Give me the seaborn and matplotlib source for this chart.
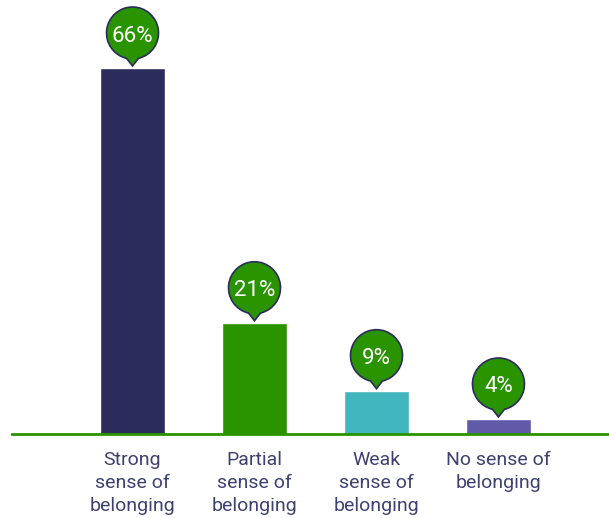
import matplotlib
matplotlib.use("Agg")
import matplotlib.pyplot as plt
import matplotlib.transforms as mtransforms
from matplotlib.path import Path
from matplotlib.patches import PathPatch
import numpy as np
import pandas as pd
import seaborn as sns

categories = ["Strong\nsense of\nbelonging", "Partial\nsense of\nbelonging",
              "Weak\nsense of\nbelonging", "No sense of\nbelonging"]
values = [66, 21, 9, 4]
labels = ["66%", "21%", "9%", "4%"]
colors = ["#2b2c5c", "#2a9400", "#41b6be", "#615aa8"]

GREEN = "#2a9400"
NAVY = "#2b2c5c"
TEXT = "#3e4170"

sns.set_theme(style="white")
plt.rcParams["font.family"] = ["Roboto", "DejaVu Sans"]

W, H, DPI = 609, 518, 100
fig = plt.figure(figsize=(W / DPI, H / DPI), dpi=DPI)
ax = fig.add_axes([12 / W, 84 / H, 597 / W, 434 / H])

df = pd.DataFrame({"category": categories, "value": values})
sns.barplot(data=df, x="category", y="value", hue="category", palette=colors,
            legend=False, width=0.533, ax=ax, saturation=1)

ax.set_xlim(-0.988, 3.906)
ax.set_ylim(1.35, 1.35 + 434 * (66 - 1.35) / 366)
ax.set_xlabel("")
ax.set_ylabel("")
ax.set_yticks([])
for s in ["top", "right", "left"]:
    ax.spines[s].set_visible(False)
ax.spines["bottom"].set_color(GREEN)
ax.spines["bottom"].set_linewidth(2)
ax.tick_params(axis="x", length=0, pad=12, labelcolor=TEXT)
for t in ax.get_xticklabels():
    t.set_multialignment("center")
    t.set_linespacing(1.38)
    t.set_fontsize(14)


def bubble_path(r, gap, half_w):
    """Round callout: circle of radius r with a small pointer ending at (0, 0)."""
    a = np.degrees(np.arcsin(half_w / r))
    arc = Path.arc(-90 + a, 270 - a)
    cy = gap + r
    verts = [(x * r, y * r + cy) for x, y in arc.vertices]
    codes = list(arc.codes)
    verts += [(0, 0), (0, 0)]
    codes += [Path.LINETO, Path.CLOSEPOLY]
    return Path(verts, codes), cy


px = 1 / DPI
path, cy = bubble_path(26 * px, 7 * px, 6 * px)
for i, (v, lab) in enumerate(zip(values, labels)):
    tr = fig.dpi_scale_trans + mtransforms.ScaledTranslation(i, v, ax.transData) \
        + mtransforms.ScaledTranslation(0, 2 * px, fig.dpi_scale_trans)
    patch = PathPatch(path, transform=tr, facecolor=GREEN, edgecolor=NAVY,
                      linewidth=1.2, clip_on=False, zorder=5)
    ax.add_patch(patch)
    ax.annotate(lab, xy=(i, v), xytext=(0, (cy / px - 1) * 0.72),
                textcoords="offset points", ha="center", va="center",
                color="white", fontsize=16, zorder=6, annotation_clip=False)

fig.savefig("out.png", dpi=DPI)
